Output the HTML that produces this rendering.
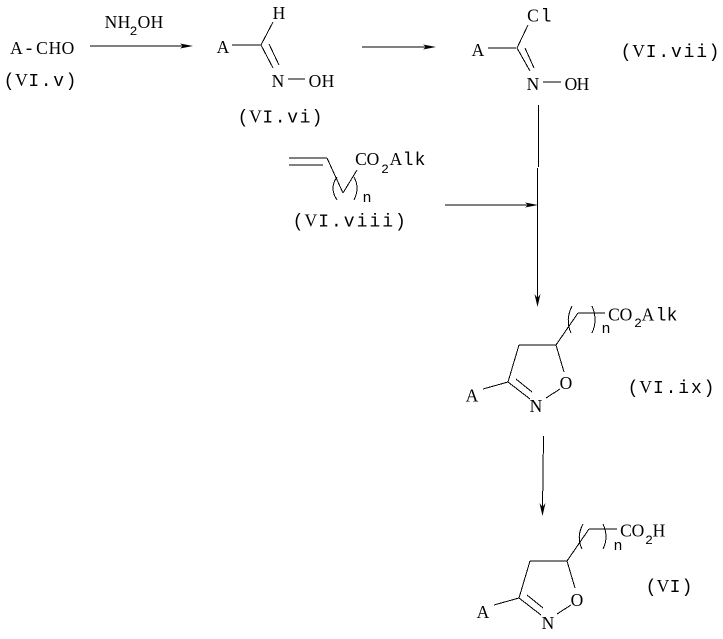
<!DOCTYPE html>
<html><head><meta charset="utf-8"><style>
html,body{margin:0;padding:0;background:#fff}
svg{display:block}
text{font-family:"Liberation Serif",serif;font-size:17.5px;fill:#000;text-anchor:middle}
.m{font-family:"Liberation Mono",monospace;font-size:18px}
text.s{font-family:"Liberation Mono",monospace;font-size:15px}
text.t{font-family:"Liberation Mono",monospace;font-size:13px}
line,path.l{stroke:#000;stroke-width:1;fill:none;shape-rendering:crispEdges}
</style></head><body>
<svg width="723" height="639" viewBox="0 0 723 639" xmlns="http://www.w3.org/2000/svg">
<line x1="90" y1="46" x2="186" y2="46"/>
<line x1="362" y1="47" x2="430" y2="47"/>
<line x1="445" y1="205" x2="532" y2="205"/>
<line x1="538.5" y1="105" x2="538.5" y2="167"/>
<line x1="537.5" y1="168" x2="537.5" y2="300"/>
<line x1="543.5" y1="436" x2="542.5" y2="510"/>
<line x1="232" y1="45" x2="261" y2="45"/>
<line x1="288" y1="79" x2="305" y2="79"/>
<line x1="488" y1="48" x2="516" y2="48"/>
<line x1="543" y1="82" x2="561" y2="82"/>
<line x1="289" y1="158" x2="327" y2="158"/>
<line x1="289" y1="165" x2="323" y2="165"/>
<line x1="519" y1="345" x2="556" y2="345"/>
<line x1="578" y1="313" x2="605" y2="313"/>
<line x1="530" y1="561" x2="567" y2="561"/>
<line x1="589" y1="529" x2="617" y2="529"/>
<path d="M180 43.5L193 46L180 48.5L183 46Z"/>
<path d="M423 44.5L436 47L423 49.5L426 47Z"/>
<path d="M525 202.5L538 205L525 207.5L528 205Z"/>
<path d="M534.5 294L537.5 307L540.5 294L537.5 298Z"/>
<path d="M539.5 503L542.5 516L545.5 503L542.5 507Z"/>
<line x1="261" y1="45" x2="273" y2="22"/>
<line x1="261" y1="45" x2="273" y2="68"/>
<line x1="269" y1="44" x2="279" y2="65"/>
<line x1="517" y1="48" x2="528" y2="25"/>
<line x1="517" y1="48" x2="530" y2="71"/>
<line x1="525" y1="48" x2="534" y2="68"/>
<line x1="327" y1="158" x2="343" y2="193"/>
<line x1="343" y1="193" x2="357" y2="170"/>
<path class="l" d="M337 177Q329 188 337 200"/>
<path class="l" d="M354 177Q360 188 354 200"/>
<line x1="519" y1="345" x2="508" y2="382"/>
<line x1="556" y1="345" x2="564" y2="372"/>
<line x1="508" y1="382" x2="530" y2="399"/>
<line x1="516" y1="379" x2="532" y2="392"/>
<line x1="560" y1="389" x2="546" y2="398"/>
<line x1="483" y1="389" x2="508" y2="382"/>
<line x1="556" y1="345" x2="578" y2="313"/>
<path class="l" d="M572 306Q565 320 571 333"/>
<path class="l" d="M592 306Q598 320 592 333"/>
<line x1="530" y1="561" x2="519" y2="598"/>
<line x1="567" y1="561" x2="575" y2="588"/>
<line x1="519" y1="598" x2="541" y2="615"/>
<line x1="527" y1="595" x2="543" y2="608"/>
<line x1="571" y1="605" x2="557" y2="614"/>
<line x1="494" y1="605" x2="519" y2="598"/>
<line x1="567" y1="561" x2="589" y2="529"/>
<path class="l" d="M583 524Q576 537 582 549"/>
<path class="l" d="M603 524Q609 537 603 549"/>

<text y="54"><tspan x="16.5">A</tspan><tspan class="m" x="29">-</tspan><tspan x="42 55 68">CHO</tspan></text>
<text y="86"><tspan class="m" x="9">(</tspan><tspan x="21.4">V</tspan><tspan class="m" x="33.8 46.2 58.6 71">I.v)</tspan></text>
<text y="28" x="111 124">NH</text>
<text class="t" x="133.5" y="35">2</text>
<text y="28" x="144 157">OH</text>
<text x="223" y="53">A</text>
<text x="279" y="19">H</text>
<text x="278" y="87">N</text>
<text y="87" x="315 328">OH</text>
<text y="122.5"><tspan class="m" x="243">(</tspan><tspan x="255.4">V</tspan><tspan class="m" x="267.8 280.2 292.6 305 317">I.vi)</tspan></text>
<text x="478" y="56">A</text>
<text y="21.5"><tspan x="533">C</tspan><tspan class="m" x="546">l</tspan></text>
<text x="533" y="90">N</text>
<text y="90" x="571 583">OH</text>
<text y="57"><tspan class="m" x="626">(</tspan><tspan x="638.6">V</tspan><tspan class="m" x="651.2 663.8 676.4 689 701.6 714">I.vii)</tspan></text>
<text y="165" x="361 373">CO</text>
<text class="t" x="385" y="173">2</text>
<text y="165"><tspan x="396">A</tspan><tspan class="m" x="408 420">lk</tspan></text>
<text class="s" x="367" y="202">n</text>
<text y="226.5"><tspan class="m" x="298">(</tspan><tspan x="310.8">V</tspan><tspan class="m" x="323.6 336.4 349.2 362 374.8 387.6 400.4">I.viii)</tspan></text>
<text x="472" y="401.5">A</text>
<text x="536" y="412">N</text>
<text x="566" y="389">O</text>
<text class="s" x="606" y="333">n</text>
<text y="320.5" x="614 626">CO</text>
<text class="t" x="638" y="327">2</text>
<text y="320.5"><tspan x="648">A</tspan><tspan class="m" x="661 672">lk</tspan></text>
<text y="393"><tspan class="m" x="633">(</tspan><tspan x="645.7">V</tspan><tspan class="m" x="658.4 671 683.7 696.4 709">I.ix)</tspan></text>
<text x="483" y="618">A</text>
<text x="548" y="629">N</text>
<text x="577" y="606">O</text>
<text class="s" x="618" y="550">n</text>
<text y="536.5" x="626 638">CO</text>
<text class="t" x="649" y="544">2</text>
<text x="659" y="536.5">H</text>
<text y="592"><tspan class="m" x="651">(</tspan><tspan x="663">V</tspan><tspan class="m" x="675 687">I)</tspan></text>
</svg>
</body></html>
